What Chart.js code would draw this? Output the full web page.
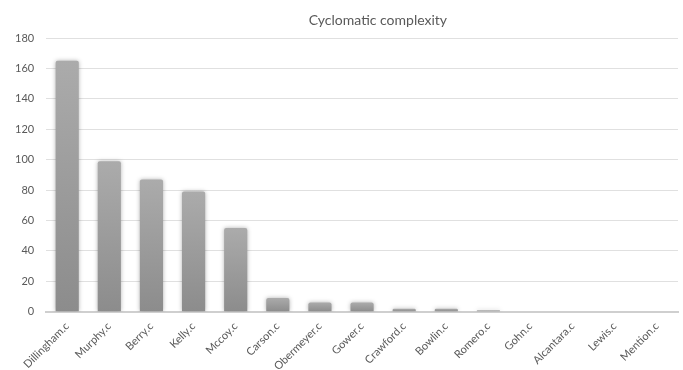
<!DOCTYPE html>
<html>
<head>
<meta charset="utf-8">
<script src="https://cdn.jsdelivr.net/npm/chart.js@4/dist/chart.umd.min.js"></script>
<style>
  html, body { margin: 0; padding: 0; background: #ffffff; overflow: hidden; }
  #wrap { width: 683px; height: 370px; overflow: hidden; }
  #box { width: 683px; height: 381px; position: relative; }
</style>
</head>
<body>
<div id="wrap"><div id="box"><canvas id="chart"></canvas></div></div>
<script>
// Source files and their cyclomatic complexity
const files = ["Dillingham.c", "Murphy.c", "Berry.c", "Kelly.c", "Mccoy.c", "Carson.c",
  "Obermeyer.c", "Gower.c", "Crawford.c", "Bowlin.c", "Romero.c", "Gohn.c",
  "Alcantara.c", "Lewis.c", "Mention.c"];
const complexity = [165, 99, 87, 79, 55, 9, 6, 6, 2, 2, 1, 0, 0, 0, 0];
const chartTitle = "Cyclomatic complexity";
const yMax = 180;
const yStep = 20;

const FONT = "Lato, 'Open Sans', sans-serif";
const TEXT = "#595959";

// Vertical grey gradient for each bar, lighter at the top
function barFill(ctx) {
  const chart = ctx.chart;
  const y = chart.scales.y;
  if (!y || ctx.type !== "data") return "#9a9a9a";
  const top = y.getPixelForValue(ctx.parsed.y);
  const base = y.getPixelForValue(0);
  if (!isFinite(top) || !isFinite(base) || Math.abs(base - top) < 1) return "#9a9a9a";
  const g = chart.ctx.createLinearGradient(0, top, 0, base);
  g.addColorStop(0, "#ababab");
  g.addColorStop(1, "#8c8c8c");
  return g;
}

// Soft shadow behind the bars
const barShadow = {
  id: "barShadow",
  beforeDatasetsDraw(chart) {
    const c = chart.ctx;
    c.save();
    c.shadowColor = "rgba(0,0,0,0.30)";
    c.shadowBlur = 4;
    c.shadowOffsetX = 0;
    c.shadowOffsetY = 0;
  },
  afterDatasetsDraw(chart) {
    chart.ctx.restore();
  }
};

// Title drawn above the plot area
const titleText = {
  id: "titleText",
  afterDraw(chart) {
    const c = chart.ctx;
    const a = chart.chartArea;
    c.save();
    c.font = "14px " + FONT;
    c.fillStyle = TEXT;
    c.textAlign = "center";
    c.textBaseline = "middle";
    c.fillText(chartTitle, a.left + (a.right - a.left) * 0.525, 20);
    c.restore();
  }
};

new Chart(document.getElementById("chart"), {
  type: "bar",
  data: {
    labels: files,
    datasets: [{
      data: complexity,
      backgroundColor: barFill,
      borderWidth: 0,
      borderRadius: 2,
      borderSkipped: "bottom",
      barPercentage: 0.55,
      categoryPercentage: 1.0
    }]
  },
  plugins: [barShadow, titleText],
  options: {
    responsive: true,
    maintainAspectRatio: false,
    animation: false,
    layout: { padding: { top: 38, right: 5, left: 3, bottom: 0 } },
    plugins: {
      legend: { display: false },
      tooltip: { enabled: false },
      title: { display: false }
    },
    scales: {
      x: {
        grid: { display: false, drawTicks: false },
        border: { display: true, color: "#cfcfcf", width: 2 },
        ticks: {
          color: TEXT,
          font: { family: FONT, size: 11 },
          maxRotation: 45,
          minRotation: 45,
          autoSkip: false,
          padding: 8
        }
      },
      y: {
        min: 0,
        max: yMax,
        grid: { color: "#e0e0e0", lineWidth: 1, drawTicks: false },
        border: { display: false },
        ticks: {
          stepSize: yStep,
          color: TEXT,
          font: { family: FONT, size: 11 },
          padding: 12
        }
      }
    }
  }
});
</script>
</body>
</html>
